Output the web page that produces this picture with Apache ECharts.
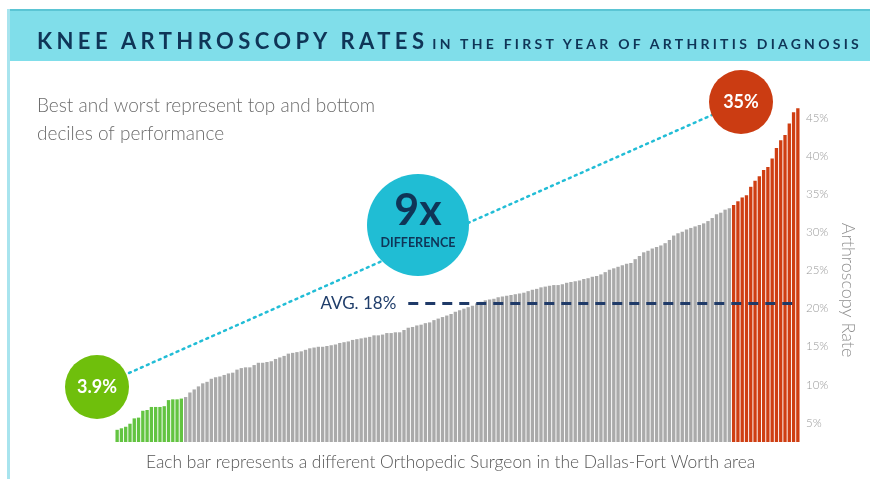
<!DOCTYPE html>
<html>
<head>
<meta charset="utf-8">
<script src="https://cdn.jsdelivr.net/npm/echarts@6/dist/echarts.min.js"></script>
<style>
html, body { margin: 0; padding: 0; background: #fff; }
#wrap { position: relative; width: 870px; height: 479px; overflow: hidden; }
#chart { width: 870px; height: 479px; }
/* title sits over the cyan band, needs letter-spacing so it is html text */
.title { position: absolute; left: 37px; top: 27px; white-space: nowrap; color: #0f3557; font-family: Lato, sans-serif; font-weight: 700; }
.title .main { font-size: 22px; letter-spacing: 4.4px; }
.title .sub { font-size: 14px; letter-spacing: 3.25px; margin-left: 4px; }
</style>
</head>
<body>
<div id="wrap">
    <div id="chart"></div>
    <div class="title"><span class="main">KNEE ARTHROSCOPY RATES</span><span class="sub">IN THE FIRST YEAR OF ARTHRITIS DIAGNOSIS</span></div>
</div>
<script>
// bottom decile (green), middle surgeons (gray), top decile (red) - rates in %
const lowDecile = [4.1, 4.3, 4.5, 4.9, 5.6, 5.7, 6.6, 6.7, 7.1, 7.1, 7.1, 7.2, 8.0, 8.1, 8.1, 8.2];
const middleSurgeons = [
    8.4, 9.0, 9.4, 9.8, 10.2, 10.4, 10.8, 11.0, 11.1, 11.3,
    11.5, 11.6, 12.0, 12.2, 12.3, 12.3, 12.6, 12.9, 12.9, 13.0,
    13.1, 13.4, 13.6, 13.8, 14.1, 14.2, 14.3, 14.4, 14.6, 14.8,
    14.9, 15.0, 15.0, 15.1, 15.2, 15.3, 15.5, 15.6, 15.7, 15.9,
    16.0, 16.1, 16.2, 16.3, 16.5, 16.5, 16.6, 16.8, 16.8, 16.9,
    16.9, 17.2, 17.5, 17.6, 17.8, 17.9, 18.1, 18.2, 18.5, 18.7,
    18.9, 19.1, 19.3, 19.6, 19.8, 20.0, 20.2, 20.4, 20.7, 20.9,
    21.1, 21.2, 21.3, 21.5, 21.6, 21.7, 21.8, 21.9, 22.0, 22.1,
    22.3, 22.5, 22.6, 22.8, 22.9, 23.0, 23.1, 23.1, 23.2, 23.4,
    23.5, 23.6, 23.7, 23.9, 24.0, 24.2, 24.3, 24.5, 24.8, 25.1,
    25.3, 25.5, 25.7, 25.9, 26.0, 26.5, 26.9, 27.4, 27.6, 27.9,
    28.1, 28.3, 28.6, 29.0, 29.6, 29.9, 30.1, 30.4, 30.6, 30.8,
    31.0, 31.2, 31.5, 31.9, 32.4, 32.6, 33.0, 33.2
];
const highDecile = [33.6, 34.1, 34.6, 34.9, 36.0, 36.8, 37.4, 38.2, 38.6, 39.7, 41.1, 42.1, 42.8, 44.3, 45.8, 46.3];

const rateTicks = [5, 10, 15, 20, 25, 30, 35, 40, 45];
const avgLevel = 20.7;
const avgStartIndex = 68;
const avgLabel = 'AVG. 18%';
const lowLabel = '3.9%';
const highLabel = '35%';
const ratioLabel = '9x';

const surgeonRates = lowDecile.concat(middleSurgeons, highDecile);
const surgeonNames = surgeonRates.map((_, i) => 'Surgeon ' + (i + 1));

const barColor = (i) => {
    if (i < lowDecile.length) return '#63c441';
    if (i >= lowDecile.length + middleSurgeons.length) return '#cf3e12';
    return '#aaaaaa';
};

const myChart = echarts.init(document.getElementById('chart'));

const options = {
    animation: false,
    backgroundColor: '#ffffff',
    grid: { left: 115, right: 70, top: 103, bottom: 37 },
    xAxis: {
        type: 'category',
        data: surgeonNames,
        show: false
    },
    yAxis: {
        type: 'value',
        position: 'right',
        min: 2.5,
        max: 47,
        splitLine: { show: false },
        axisLine: { show: false },
        axisTick: { show: false },
        axisLabel: {
            customValues: rateTicks,
            formatter: '{value}%',
            color: '#9a9a9a',
            fontFamily: 'Lato',
            fontWeight: 300,
            fontSize: 11.5,
            margin: 6
        }
    },
    series: [
        {
            type: 'bar',
            barCategoryGap: '22%',
            data: surgeonRates.map((v, i) => ({ value: v, itemStyle: { color: barColor(i) } })),
            markLine: {
                silent: true,
                symbol: ['none', 'none'],
                lineStyle: { type: [10, 7], width: 3, color: '#1f3a68' },
                label: {
                    show: true,
                    position: 'start',
                    formatter: avgLabel,
                    distance: 12,
                    color: '#1f3d6a',
                    fontFamily: 'Lato',
                    fontSize: 17
                },
                data: [[
                    { coord: [avgStartIndex, avgLevel] },
                    { coord: [surgeonRates.length - 1, avgLevel] }
                ]]
            }
        }
    ],
    graphic: [
        // title band and frame
        { type: 'rect', shape: { x: 7, y: 9, width: 863, height: 52 }, style: { fill: '#80deea' }, z: 0 },
        { type: 'rect', shape: { x: 7, y: 9, width: 863, height: 2 }, style: { fill: '#5bc5d4' }, z: 0 },
        { type: 'rect', shape: { x: 7, y: 9, width: 3, height: 470 }, style: { fill: '#a8e4ee' }, z: 0 },
        {
            type: 'text', x: 37, y: 92,
            style: {
                text: 'Best and worst represent top and bottom\ndeciles of performance',
                fill: '#6b6b6b', fontFamily: 'Lato', fontWeight: 300, fontSize: 19, lineHeight: 28
            }
        },
        // dotted connector
        {
            type: 'line', z: 10,
            shape: { x1: 129, y1: 373, x2: 712, y2: 115 },
            style: { stroke: '#22bdd6', lineWidth: 2.5, lineDash: [2, 4.5], lineCap: 'round' }
        },
        { type: 'circle', z: 11, shape: { cx: 97, cy: 387, r: 32 }, style: { fill: '#6fbf0c' } },
        { type: 'circle', z: 11, shape: { cx: 418, cy: 225, r: 51 }, style: { fill: '#20bdd4' } },
        { type: 'circle', z: 11, shape: { cx: 741, cy: 102, r: 32 }, style: { fill: '#cb3c12' } },
        {
            type: 'text', z: 12, x: 97, y: 387,
            style: { text: lowLabel, fill: '#fff', fontFamily: 'Lato', fontWeight: 'bold', fontSize: 18, align: 'center', verticalAlign: 'middle' }
        },
        {
            type: 'text', z: 12, x: 741, y: 102,
            style: { text: highLabel, fill: '#fff', fontFamily: 'Lato', fontWeight: 'bold', fontSize: 18, align: 'center', verticalAlign: 'middle' }
        },
        {
            type: 'text', z: 12, x: 418, y: 211,
            style: { text: ratioLabel, fill: '#0f3557', fontFamily: 'Lato', fontWeight: 'bold', fontSize: 43, align: 'center', verticalAlign: 'middle' }
        },
        {
            type: 'text', z: 12, x: 418, y: 243,
            style: { text: 'DIFFERENCE', fill: '#0f3557', fontFamily: 'Lato', fontWeight: 'bold', fontSize: 12.5, align: 'center', verticalAlign: 'middle' }
        },
        // axis name, reads top to bottom
        {
            type: 'text', x: 848, y: 290, rotation: -Math.PI / 2,
            style: { text: 'Arthroscopy Rate', fill: '#8f8f8f', fontFamily: 'Lato', fontWeight: 300, fontSize: 18, align: 'center', verticalAlign: 'middle' }
        },
        {
            type: 'text', x: 146, y: 462,
            style: {
                text: 'Each bar represents a different Orthopedic Surgeon in the Dallas-Fort Worth area',
                fill: '#555555', fontFamily: 'Lato', fontWeight: 300, fontSize: 17.4, verticalAlign: 'middle'
            }
        }
    ]
};

myChart.setOption(options);
</script>
</body>
</html>
